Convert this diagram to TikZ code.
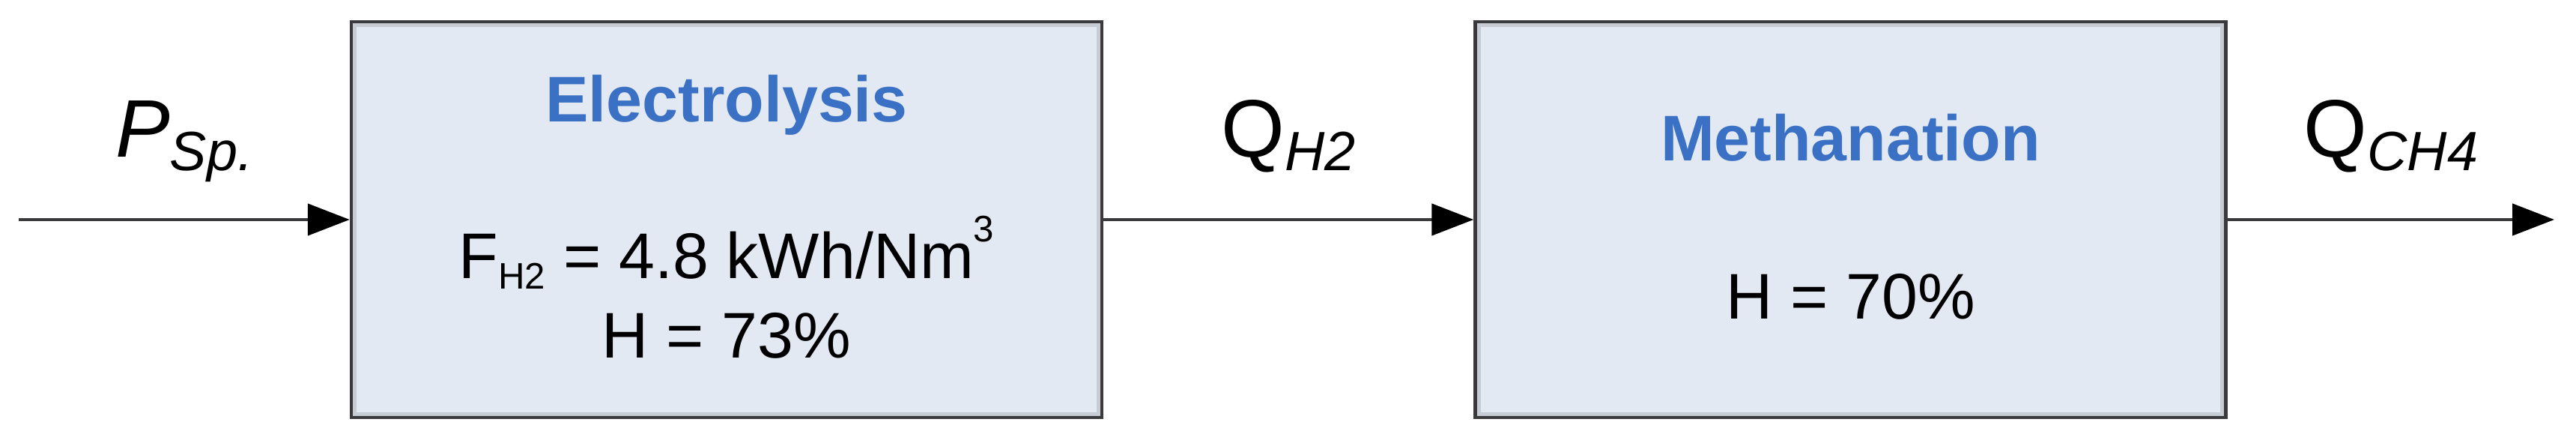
\documentclass[tikz,border=0pt]{standalone}
\usepackage{fontspec}
\setmainfont{Liberation Sans}
\usepackage{xcolor}
\usepackage{tikz}
\usetikzlibrary{arrows.meta,positioning}

\definecolor{boxfill}{RGB}{227,233,242}
\definecolor{boxedge}{RGB}{58,58,60}
\definecolor{boxinner}{RGB}{198,203,212}
\definecolor{titleblue}{RGB}{59,113,196}

\newcommand{\lsub}[1]{\raisebox{-5pt}{\fontsize{21}{21}\selectfont\itshape #1}}
\newcommand{\tsub}[1]{\raisebox{-3.7pt}{\fontsize{14}{14}\selectfont #1}}
\newcommand{\tsup}[1]{\raisebox{14pt}{\fontsize{14}{14}\selectfont #1}}

\tikzset{
  block/.style={draw=boxedge, line width=0.045cm, fill=boxfill, minimum width=10.02cm, minimum height=5.28cm, inner sep=0pt},
  blockinner/.style={draw=boxinner, line width=0.05cm},
  blocktitle/.style={font=\fontsize{24.5}{24.5}\selectfont\bfseries, text=titleblue, anchor=base, inner sep=0pt},
  param/.style={font=\fontsize{24.5}{24.5}\selectfont, anchor=base, inner sep=0pt},
  flowlabel/.style={font=\fontsize{31}{31}\selectfont, text=black, anchor=base, inner sep=0pt, yshift=0.83cm},
  flow/.style={draw=boxedge, line width=0.045cm, -{Triangle[length=0.56cm, width=0.42cm, color=black]}}
}

\begin{document}
\begin{tikzpicture}
\useasboundingbox (0,0) rectangle (34.39,5.86);

\node[block] (elec) at (9.70,2.93) {};
\node[block] (meth) at (24.705,2.93) {};
\draw[blockinner] ([shift={(0.07,0.07)}]elec.south west) rectangle ([shift={(-0.07,-0.07)}]elec.north east);
\draw[blockinner] ([shift={(0.07,0.07)}]meth.south west) rectangle ([shift={(-0.07,-0.07)}]meth.north east);

\node[blocktitle] (electitle) at (9.70,4.23) {Electrolysis};
\node[param] (elecf) at (9.70,2.14) {F\tsub{H2} = 4.8 kWh/Nm\tsup{3}};
\node[param] (eleceta) at (9.70,1.08) {H = 73\%};
\node[blocktitle] (methtitle) at (24.705,3.71) {Methanation};
\node[param] (metheta) at (24.705,1.60) {H = 70\%};

\coordinate (src) at (0.25,2.93);
\coordinate (sink) at (34.10,2.93);

\draw[flow] (src) -- (elec) node[flowlabel, midway] (psp) {\textit{P}\lsub{Sp.}};
\draw[flow] (elec) -- (meth) node[flowlabel, midway] (qh) {Q\lsub{H2}};
\draw[flow] (meth) -- (sink) node[flowlabel, midway] (qch) {Q\lsub{CH4}};
\end{tikzpicture}
\end{document}
